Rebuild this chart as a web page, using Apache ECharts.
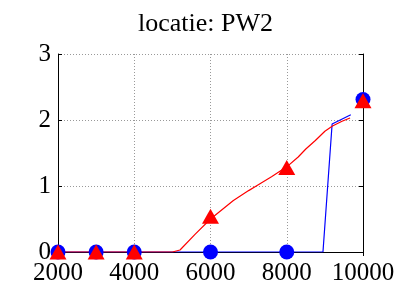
<!DOCTYPE html>
<html>
<head>
<meta charset="utf-8">
<script src="https://cdn.jsdelivr.net/npm/echarts@6/dist/echarts.min.js"></script>
<style>
  html, body { margin: 0; padding: 0; background: #fff; }
  #chart { width: 411px; height: 287px; }
</style>
</head>
<body>
<div id="chart"></div>
<script>
// measured points (circles / triangles)
var pointX = [2000, 3000, 4000, 6000, 8000, 10000];
var blueDots = [0, 0, 0, 0, 0, 2.31];
var redTriangles = [0, 0, 0, 0.54, 1.28, 2.29];

// blue curve
var blueLineX = [2000, 3000, 4000, 5000, 6000, 7000, 8000, 8950, 9190, 9680];
var blueLineY = [0, 0, 0, 0, 0, 0, 0, 0, 1.94, 2.08];

// red curve
var redLineX = [2000, 3000, 4000, 5000, 5200, 5600, 6000, 6300, 6600, 7000, 7200, 7600, 8000, 8300, 8500, 8750, 9000, 9200, 9450, 9660];
var redLineY = [0, 0, 0, 0, 0.03, 0.27, 0.50, 0.64, 0.78, 0.93, 1.00, 1.14, 1.29, 1.44, 1.56, 1.69, 1.83, 1.91, 1.98, 2.03];

function pairs(xs, ys) {
	var out = [];
	for (var i = 0; i < xs.length; i++) out.push([xs[i], ys[i]]);
	return out;
}

var chart = echarts.init(document.getElementById('chart'), null, { renderer: 'canvas' });
var font = 'Liberation Serif';

var option = {
	animation: false,
	backgroundColor: '#fff',
	title: {
		text: 'locatie: PW2',
		left: 'center',
		top: 6,
		textStyle: { fontFamily: font, fontSize: 26, fontWeight: 'normal', color: '#000' }
	},
	grid: { left: 58, right: 48, top: 54, bottom: 35, show: false },
	xAxis: [{
		type: 'value', min: 2000, max: 10000, interval: 2000,
		axisLine: { lineStyle: { color: '#000', width: 1 } },
		axisTick: { inside: true, length: 4, lineStyle: { color: '#000' } },
		axisLabel: { fontFamily: font, fontSize: 25, color: '#000', margin: 9, formatter: function (v) { return String(v); } },
		splitLine: { show: true, lineStyle: { color: '#999', type: [1, 2], width: 1 } }
	}, {
		type: 'value', min: 2000, max: 10000, interval: 2000, position: 'top',
		axisLine: { show: true, lineStyle: { color: '#000', width: 1 } },
		axisTick: { inside: true, length: 4, lineStyle: { color: '#000' } },
		axisLabel: { show: false },
		splitLine: { show: false }
	}],
	yAxis: [{
		type: 'value', min: 0, max: 3, interval: 1,
		axisLine: { show: true, lineStyle: { color: '#000', width: 1 } },
		axisTick: { show: true, inside: true, length: 4, lineStyle: { color: '#000' } },
		axisLabel: { fontFamily: font, fontSize: 25, color: '#000', margin: 7 },
		splitLine: { show: true, lineStyle: { color: '#999', type: [1, 2], width: 1 } }
	}, {
		type: 'value', min: 0, max: 3, interval: 1, position: 'right',
		axisLine: { show: true, lineStyle: { color: '#000', width: 1 } },
		axisTick: { show: true, inside: true, length: 4, lineStyle: { color: '#000' } },
		axisLabel: { show: false },
		splitLine: { show: false }
	}],
	series: [{
		type: 'line', data: pairs(blueLineX, blueLineY), showSymbol: false,
		lineStyle: { color: '#0000ff', width: 1.2 }, z: 3
	}, {
		type: 'line', data: pairs(redLineX, redLineY), showSymbol: false,
		lineStyle: { color: '#ff0000', width: 1.2 }, z: 3
	}, {
		type: 'scatter', data: pairs(pointX, blueDots), symbol: 'circle', symbolSize: 15,
		itemStyle: { color: '#0000ff', opacity: 1 }, clip: false, z: 4
	}, {
		type: 'scatter', data: pairs(pointX, redTriangles), symbol: 'triangle', symbolSize: [17, 15],
		itemStyle: { color: '#ff0000', opacity: 1 }, clip: false, z: 5
	}]
};
chart.setOption(option);
</script>
</body>
</html>
